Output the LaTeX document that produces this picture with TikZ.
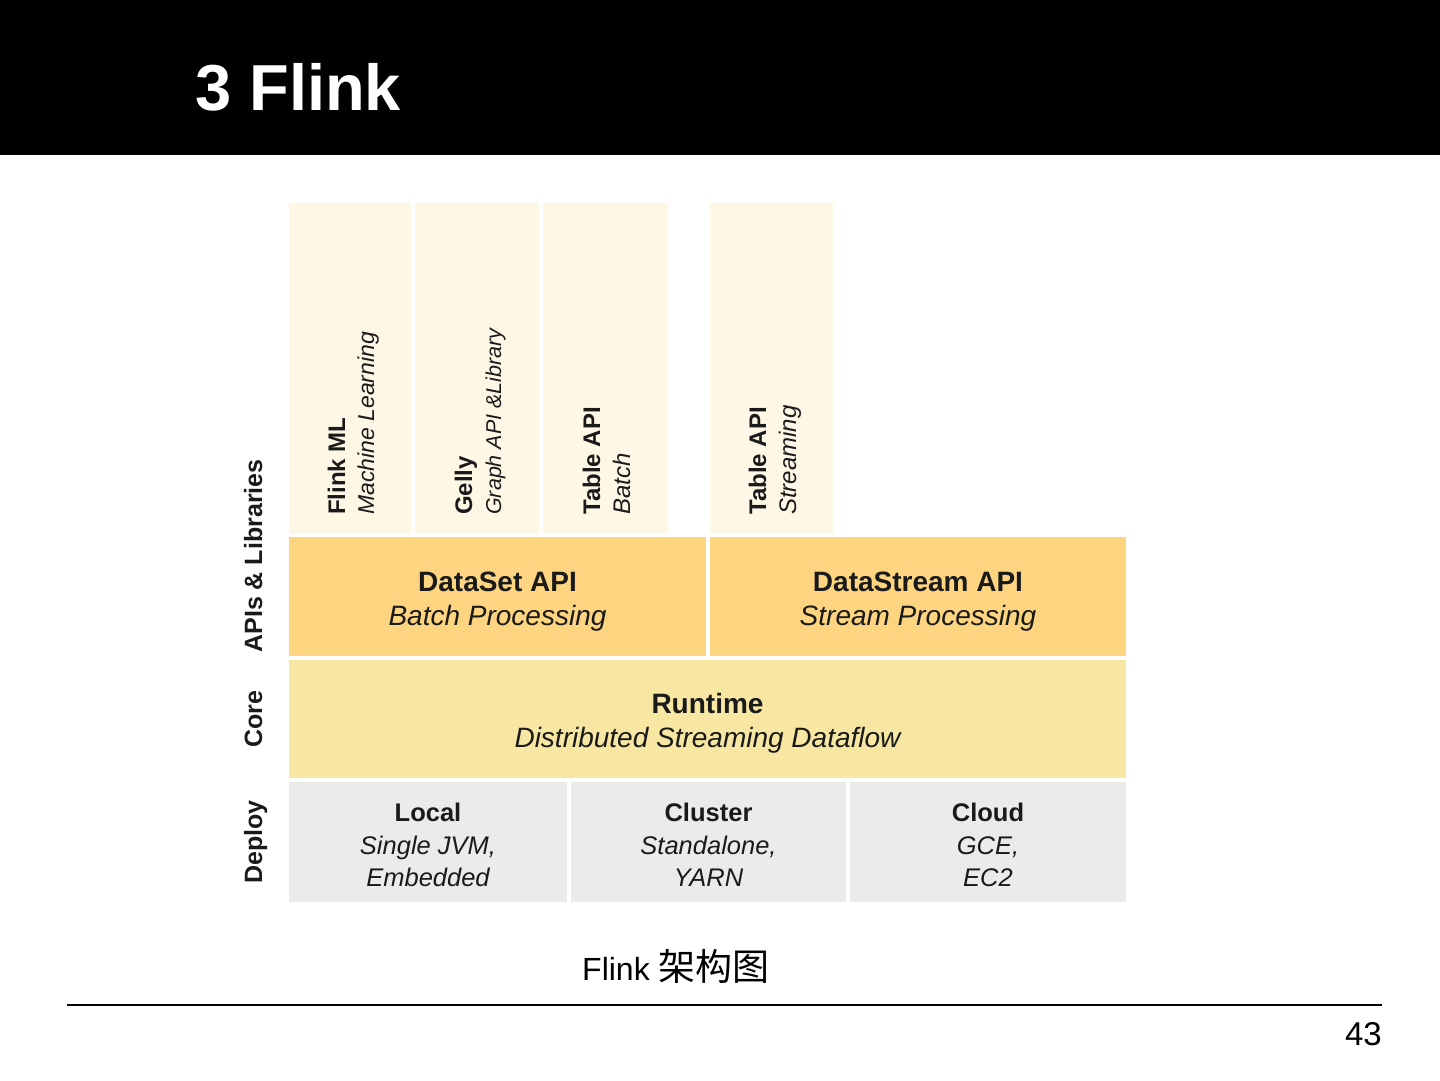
\documentclass[tikz,border=0pt]{standalone}
\usepackage{fontspec}
\setmainfont{Liberation Sans}
\newfontfamily\cjk{Noto Sans CJK SC}
\definecolor{cream}{HTML}{FEF7E6}
\definecolor{apiorange}{HTML}{FDD581}
\definecolor{coreyellow}{HTML}{F8E7A3}
\definecolor{deploygray}{HTML}{EBEBEB}
\definecolor{txt}{HTML}{1A1A1A}
\begin{document}
\begin{tikzpicture}[x=1pt,y=-1pt,
  box/.style={inner sep=0pt, outer sep=0pt, anchor=north west, draw=none},
  colbox/.style={box, fill=cream, minimum width=#1, minimum height=330pt},
  rb/.style={inner sep=0pt, anchor=base west, rotate=90, text=txt, font=\bfseries\fontsize{24}{28}\selectfont},
  ri/.style={inner sep=0pt, anchor=base west, rotate=90, text=txt, font=\itshape\fontsize{23}{28}\selectfont},
  tb/.style={inner sep=0pt, anchor=base, text=txt, font=\bfseries\fontsize{28}{34}\selectfont},
  ti/.style={inner sep=0pt, anchor=base, text=txt, font=\itshape\fontsize{28}{34}\selectfont},
  db/.style={inner sep=0pt, anchor=base, text=txt, font=\bfseries\fontsize{25.5}{32}\selectfont},
  di/.style={inner sep=0pt, anchor=base, text=txt, font=\itshape\fontsize{25.5}{32}\selectfont},
  side/.style={inner sep=0pt, anchor=base, rotate=90, text=txt, font=\bfseries\fontsize{25}{30}\selectfont}]
\useasboundingbox (0,0) rectangle (1440,1080);
\fill[white] (0,0) rectangle (1440,1080);
% header
\node[box, fill=black, minimum width=1440pt, minimum height=155pt] (header) at (0,0) {};
\node[inner sep=0pt, anchor=base west, text=white, font=\bfseries\fontsize{65}{78}\selectfont] (title) at (195,110) {3 Flink};
% library columns
\node[colbox=122pt] (flinkml) at (289,203) {};
\node[colbox=124pt] (gelly) at (415,203) {};
\node[colbox=125pt] (tablebatch) at (543,203) {};
\node[colbox=123pt] (tablestream) at (710,203) {};
\node[rb] (flinkmlA) at (345,515) {Flink ML};
\node[ri] (flinkmlB) at (374,515) {Machine Learning};
\node[rb] (gellyA) at (472,515) {Gelly};
\node[ri, font=\itshape\fontsize{21.5}{28}\selectfont] (gellyB) at (501,515) {Graph API \&Library};
\node[rb] (tbA) at (600,515) {Table API};
\node[ri, font=\itshape\fontsize{24}{28}\selectfont] (tbB) at (630,515) {Batch};
\node[rb] (tsA) at (766,515) {Table API};
\node[ri, font=\itshape\fontsize{24}{28}\selectfont] (tsB) at (796,515) {Streaming};
% APIs
\node[box, fill=apiorange, minimum width=417pt, minimum height=119pt] (dataset) at (289,537) {};
\node[box, fill=apiorange, minimum width=416pt, minimum height=119pt] (datastream) at (710,537) {};
\node[tb] (datasetA) at (497.5,591) {DataSet API};
\node[ti] (datasetB) at (497.5,625) {Batch Processing};
\node[tb] (datastreamA) at (918,591) {DataStream API};
\node[ti] (datastreamB) at (918,625) {Stream Processing};
% Core
\node[box, fill=coreyellow, minimum width=837pt, minimum height=118pt] (runtime) at (289,660) {};
\node[tb] (runtimeA) at (707.5,713) {Runtime};
\node[ti] (runtimeB) at (707.5,747) {Distributed Streaming Dataflow};
% Deploy
\node[box, fill=deploygray, minimum width=278pt, minimum height=120pt] (local) at (289,782) {};
\node[box, fill=deploygray, minimum width=275pt, minimum height=120pt] (cluster) at (571,782) {};
\node[box, fill=deploygray, minimum width=276pt, minimum height=120pt] (cloud) at (850,782) {};
\node[db] (localA) at (428,821) {Local};
\node[di] (localB) at (428,854) {Single JVM,};
\node[di] (localC) at (428,886) {Embedded};
\node[db] (clusterA) at (708.5,821) {Cluster};
\node[di] (clusterB) at (708.5,854) {Standalone,};
\node[di] (clusterC) at (708.5,886) {YARN};
\node[db] (cloudA) at (988,821) {Cloud};
\node[di] (cloudB) at (988,854) {GCE,};
\node[di] (cloudC) at (988,886) {EC2};
% side labels
\node[side] (lblapi) at (262,556) {APIs \& Libraries};
\node[side] (lblcore) at (262,719) {Core};
\node[side] (lbldeploy) at (262,842) {Deploy};
% caption and footer
\node[inner sep=0pt, anchor=base west, font=\fontsize{32}{38}\selectfont] (caption) at (582,980) {Flink {\cjk\fontsize{37}{42}\selectfont 架构图}};
\coordinate (ruleL) at (67,1005);
\coordinate (ruleR) at (1382,1005);
\draw[line width=2.5pt, black] (ruleL) -- (ruleR);
\node[inner sep=0pt, anchor=base east, font=\fontsize{33}{38}\selectfont] (pagenum) at (1382,1045) {43};
\end{tikzpicture}
\end{document}
